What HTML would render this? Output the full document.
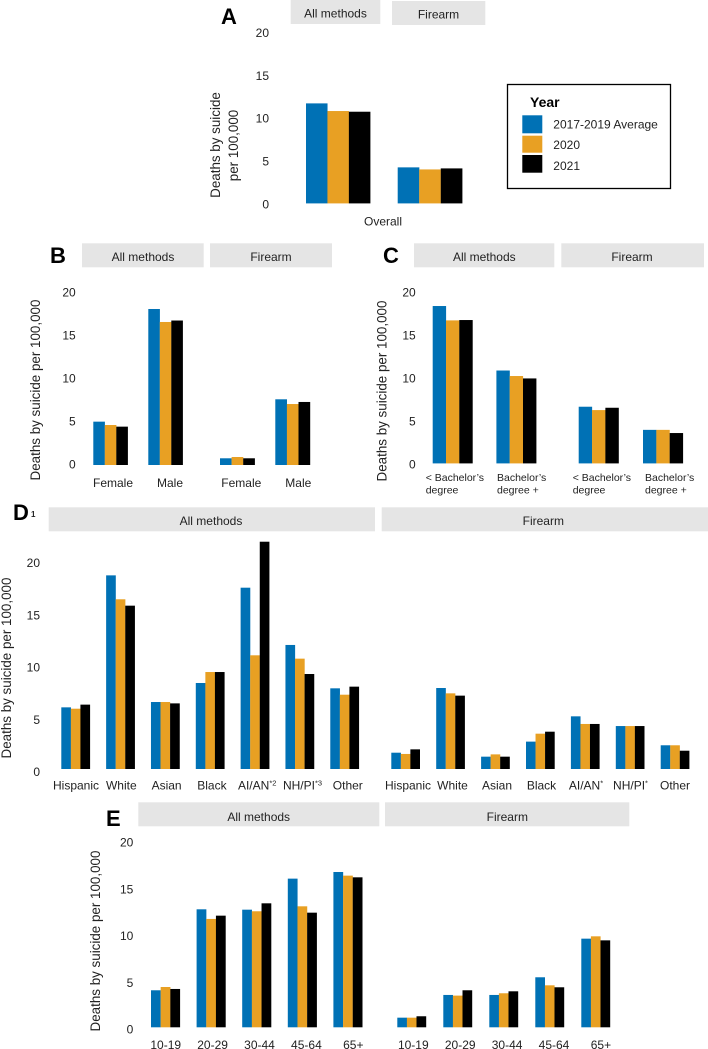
<!DOCTYPE html>
<html lang="en">
<head>
<meta charset="utf-8">
<title>Deaths by suicide per 100,000</title>
<style>
html,body{margin:0;padding:0;background:#fff;width:708px;height:1049px;overflow:hidden}
svg{display:block;filter:blur(0.3px)}
text{font-family:"Liberation Sans",Arial,sans-serif;fill:#222}
.strip{fill:#e5e5e5}
.strip-label{font-size:12px;text-anchor:middle}
.panel-letter{font-size:22px;font-weight:bold;fill:#000}
.y-title{font-size:13.4px;text-anchor:middle}
.tick{font-size:12px;text-anchor:end}
.cat{font-size:12px;text-anchor:middle}
.cat-small{font-size:10.5px;text-anchor:start}
.legend-text{font-size:12px}
</style>
</head>
<body>
<svg id="chart" xmlns="http://www.w3.org/2000/svg" width="708" height="1049" viewBox="0 0 708 1049">
  <rect width="708" height="1049" fill="#fff"/>

  <text class="panel-letter" x="221" y="24">A</text>
  <text class="panel-letter" x="50" y="263">B</text>
  <text class="panel-letter" x="383" y="263">C</text>
  <text class="panel-letter" x="13" y="520">D</text>
  <text x="31" y="517" font-size="8" font-weight="bold">1</text>
  <text class="panel-letter" x="106" y="826">E</text>

  <g>
    <rect class="strip" x="290.7" y="0" width="89.6" height="24"/>
    <text class="strip-label" x="335.5" y="17.5">All methods</text>
    <rect class="strip" x="392" y="1" width="93.3" height="24"/>
    <text class="strip-label" x="438.5" y="18.5">Firearm</text>
  </g>
  <g>
    <rect class="strip" x="82" y="243.3" width="121.7" height="24"/>
    <text class="strip-label" x="143" y="261">All methods</text>
    <rect class="strip" x="210" y="243.3" width="122" height="24"/>
    <text class="strip-label" x="271" y="261">Firearm</text>
  </g>
  <g>
    <rect class="strip" x="414" y="243.3" width="140.3" height="24"/>
    <text class="strip-label" x="484.3" y="261">All methods</text>
    <rect class="strip" x="561.3" y="243.3" width="142.7" height="24"/>
    <text class="strip-label" x="632" y="261">Firearm</text>
  </g>
  <g>
    <rect class="strip" x="48.7" y="507.3" width="326.3" height="24"/>
    <text class="strip-label" x="211" y="525">All methods</text>
    <rect class="strip" x="381.7" y="507.3" width="326.3" height="24"/>
    <text class="strip-label" x="543.3" y="525">Firearm</text>
  </g>
  <g>
    <rect class="strip" x="138.3" y="802.3" width="241" height="24"/>
    <text class="strip-label" x="258.7" y="821">All methods</text>
    <rect class="strip" x="385" y="802.3" width="244.3" height="24"/>
    <text class="strip-label" x="507.3" y="821">Firearm</text>
  </g>

  <text class="y-title" transform="translate(220,145) rotate(-90)">Deaths by suicide</text>
  <text class="y-title" transform="translate(238,145.5) rotate(-90)">per 100,000</text>
  <text class="y-title" transform="translate(40,390) rotate(-90)">Deaths by suicide per 100,000</text>
  <text class="y-title" transform="translate(386.5,391) rotate(-90)">Deaths by suicide per 100,000</text>
  <text class="y-title" transform="translate(11,668) rotate(-90)">Deaths by suicide per 100,000</text>
  <text class="y-title" transform="translate(100,941) rotate(-90)">Deaths by suicide per 100,000</text>

  <g>
    <rect x="507.5" y="84.5" width="163" height="104" fill="#fff" stroke="#000" stroke-width="1.3"/>
    <text x="530" y="107" font-size="14" font-weight="bold" style="fill:#000">Year</text>
    <rect x="522.3" y="115.3" width="20" height="18" fill="#0071b5"/>
    <text class="legend-text" x="553.3" y="128.5">2017-2019 Average</text>
    <rect x="522.3" y="135.7" width="20" height="17" fill="#e8a023"/>
    <text class="legend-text" x="553.3" y="149.2">2020</text>
    <rect x="522.3" y="155" width="20" height="17.7" fill="#000"/>
    <text class="legend-text" x="553.3" y="170">2021</text>
  </g>
</svg>

<script>
// Shared
const seriesNames = ['2017-2019', '2020', '2021'];
const seriesColors = ['#0071b5', '#e8a023', '#000000'];
const yTicks = [0, 5, 10, 15, 20];

// Panel A: overall
const aCategories = ['Overall'];
const aAllAvg = [11.63];
const aAll2020 = [10.74];
const aAll2021 = [10.66];
const aFirearmAvg = [4.19];
const aFirearm2020 = [3.95];
const aFirearm2021 = [4.07];

// Panel B: sex
const bCategories = ['Female', 'Male'];
const bAllAvg = [5.04, 18.14];
const bAll2020 = [4.65, 16.63];
const bAll2021 = [4.46, 16.8];
const bFirearmAvg = [0.78, 7.64];
const bFirearm2020 = [0.93, 7.09];
const bFirearm2021 = [0.78, 7.33];

// Panel C: education
const cCategoriesLine1 = ['< Bachelor\u2019s', 'Bachelor\u2019s'];
const cCategoriesLine2 = ['degree', 'degree +'];
const cAllAvg = [18.3, 10.8];
const cAll2020 = [16.63, 10.16];
const cAll2021 = [16.67, 9.88];
const cFirearmAvg = [6.59, 3.9];
const cFirearm2020 = [6.2, 3.9];
const cFirearm2021 = [6.47, 3.53];

// Panel D: race and ethnicity
const dCategories = ['Hispanic', 'White', 'Asian', 'Black', 'AI/AN', 'NH/PI', 'Other'];
const dAllNotes = ['', '', '', '', '*2', '*3', ''];
const dFirearmNotes = ['', '', '', '', '*', '*', ''];
const dAllAvg = [5.9, 18.53, 6.41, 8.23, 17.35, 11.87, 7.72];
const dAll2020 = [5.77, 16.24, 6.41, 9.28, 10.88, 10.56, 7.11];
const dAll2021 = [6.16, 15.63, 6.28, 9.28, 21.75, 9.09, 7.88];
const dFirearmAvg = [1.56, 7.75, 1.18, 2.62, 5.04, 4.11, 2.27];
const dFirearm2020 = [1.44, 7.24, 1.4, 3.38, 4.31, 4.11, 2.27];
const dFirearm2021 = [1.88, 7.02, 1.18, 3.57, 4.31, 4.11, 1.75];

// Panel E: age
const eCategories = ['10-19', '20-29', '30-44', '45-64', '65+'];
const eAllAvg = [3.96, 12.62, 12.58, 15.9, 16.61];
const eAll2020 = [4.31, 11.59, 12.41, 12.94, 16.22];
const eAll2021 = [4.1, 11.94, 13.26, 12.26, 16.04];
const eFirearmAvg = [1.03, 3.46, 3.46, 5.35, 9.48];
const eFirearm2020 = [1.03, 3.39, 3.64, 4.49, 9.73];
const eFirearm2021 = [1.18, 3.96, 3.85, 4.28, 9.3];

const svgNS = 'http://www.w3.org/2000/svg';
const root = document.getElementById('chart');

function drawYAxis(panel, zeroY, unit, rightX) {
  const yScale = function (v) { return zeroY - v * unit; };
  yTicks.forEach(function (t) {
    const el = document.createElementNS(svgNS, 'text');
    
    
    el.setAttribute('class', 'tick');
    el.setAttribute('x', rightX);
    el.setAttribute('y', yScale(t) + 4.2);
    el.textContent = t;
    root.appendChild(el);
  });
}

function drawBars(facet, cfg, series) {
  const barW = cfg.groupW / series.length;
  const xScale = function (i, s) { return cfg.x0 + i * cfg.step + s * barW; };
  const yScale = function (v) { return cfg.base - v * cfg.unit; };
  series.forEach(function (values, s) {
    values.forEach(function (v, i) {
      const el = document.createElementNS(svgNS, 'rect');
      
      
      el.setAttribute('x', xScale(i, s));
      el.setAttribute('y', yScale(v));
      el.setAttribute('width', barW + 0.1);
      el.setAttribute('height', cfg.base - yScale(v));
      el.setAttribute('fill', seriesColors[s]);
      root.appendChild(el);
    });
  });
}

function drawCategoryLabels(facet, labels, notes, x0, step, y) {
  labels.forEach(function (label, i) {
    const el = document.createElementNS(svgNS, 'text');
    
    
    el.setAttribute('class', 'cat');
    el.setAttribute('x', x0 + i * step);
    el.setAttribute('y', y);
    el.textContent = label;
    if (notes && notes[i]) {
      const sup = document.createElementNS(svgNS, 'tspan');
      
      
      sup.setAttribute('font-size', '7.5');
      sup.setAttribute('dy', '-4');
      sup.textContent = notes[i];
      el.appendChild(sup);
    }
    root.appendChild(el);
  });
}

function drawTwoLineLabels(facet, line1, line2, x0, step, y1, y2) {
  [line1, line2].forEach(function (labels, row) {
    labels.forEach(function (label, i) {
      const el = document.createElementNS(svgNS, 'text');
      
      
      el.setAttribute('class', 'cat-small');
      el.setAttribute('x', x0 + i * step);
      el.setAttribute('y', row === 0 ? y1 : y2);
      el.textContent = label;
      root.appendChild(el);
    });
  });
}

// Panel A
drawYAxis('panel-a', 204.3, 8.58, 269);
drawBars('panel-a-all', {x0: 306, step: 0, groupW: 64.3, base: 203.4, unit: 8.6}, [aAllAvg, aAll2020, aAll2021]);
drawBars('panel-a-firearm', {x0: 397.7, step: 0, groupW: 64.6, base: 203.4, unit: 8.6}, [aFirearmAvg, aFirearm2020, aFirearm2021]);
drawCategoryLabels('panel-a', aCategories, null, 383, 0, 225.5);

// Panel B
drawYAxis('panel-b', 464.3, 8.6, 75.7);
drawBars('panel-b-all', {x0: 93.3, step: 55, groupW: 34.5, base: 465, unit: 8.6}, [bAllAvg, bAll2020, bAll2021]);
drawBars('panel-b-firearm', {x0: 220, step: 55.3, groupW: 34.8, base: 465, unit: 8.6}, [bFirearmAvg, bFirearm2020, bFirearm2021]);
drawCategoryLabels('panel-b-all', bCategories, null, 113, 57, 487);
drawCategoryLabels('panel-b-firearm', bCategories, null, 241.3, 57, 487);

// Panel C
drawYAxis('panel-c', 464.3, 8.6, 415.7);
drawBars('panel-c-all', {x0: 432.7, step: 63.7, groupW: 39.9, base: 463.4, unit: 8.6}, [cAllAvg, cAll2020, cAll2021]);
drawBars('panel-c-firearm', {x0: 578.7, step: 64.3, groupW: 40, base: 463.4, unit: 8.6}, [cFirearmAvg, cFirearm2020, cFirearm2021]);
drawTwoLineLabels('panel-c-all', cCategoriesLine1, cCategoriesLine2, 425.7, 71.3, 481, 493.5);
drawTwoLineLabels('panel-c-firearm', cCategoriesLine1, cCategoriesLine2, 572.7, 72.3, 481, 493.5);

// Panel D
drawYAxis('panel-d', 772, 10.45, 40);
drawBars('panel-d-all', {x0: 61.3, step: 44.83, groupW: 28.7, base: 769, unit: 10.45}, [dAllAvg, dAll2020, dAll2021]);
drawBars('panel-d-firearm', {x0: 391.3, step: 44.9, groupW: 28.6, base: 769, unit: 10.45}, [dFirearmAvg, dFirearm2020, dFirearm2021]);
drawCategoryLabels('panel-d-all', dCategories, dAllNotes, 76, 45.3, 789.3);
drawCategoryLabels('panel-d-firearm', dCategories, dFirearmNotes, 408, 44.5, 789.3);

// Panel E
drawYAxis('panel-e', 1029.3, 9.35, 133.3);
drawBars('panel-e-all', {x0: 151, step: 45.6, groupW: 29, base: 1027.3, unit: 9.35}, [eAllAvg, eAll2020, eAll2021]);
drawBars('panel-e-firearm', {x0: 397.3, step: 46, groupW: 28.8, base: 1027.3, unit: 9.35}, [eFirearmAvg, eFirearm2020, eFirearm2021]);
drawCategoryLabels('panel-e-all', eCategories, null, 165.7, 46.9, 1049);
drawCategoryLabels('panel-e-firearm', eCategories, null, 413.3, 46.9, 1049);
</script>
</body>
</html>
